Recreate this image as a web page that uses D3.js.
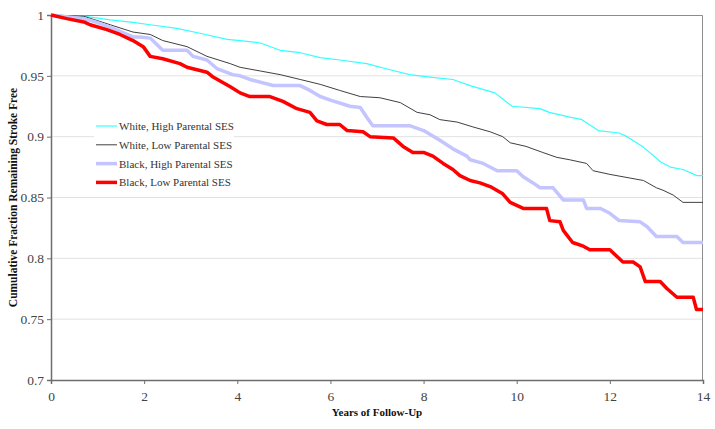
<!DOCTYPE html>
<html>
<head>
<meta charset="utf-8">
<script src="https://cdn.jsdelivr.net/npm/d3@7"></script>
<style>
  body { margin: 0; background: #fff; }
</style>
</head>
<body>
<div id="chart"></div>
<script>
// ticks
const xTicks = [0, 2, 4, 6, 8, 10, 12, 14];
const yTicks = [0.7, 0.75, 0.8, 0.85, 0.9, 0.95, 1];

// series: [year, fraction stroke free]
const whiteHigh = [[0,1],[0.7,0.999],[1.27,0.996],[1.76,0.994],[2.13,0.992],[2.7,0.989],[3.2,0.985],[3.78,0.98],
  [4.06,0.979],[4.5,0.977],[4.92,0.971],[5.35,0.969],[5.78,0.965],[6.2,0.963],[6.78,0.96],[7.28,0.955],[7.7,0.951],
  [8.14,0.949],[8.63,0.947],[9.0,0.942],[9.53,0.936],[9.7,0.931],[9.9,0.925],[10.5,0.923],[10.7,0.92],[11.14,0.916],
  [11.4,0.914],[11.75,0.905],[12.2,0.903],[12.37,0.9],[12.7,0.892],[13.1,0.879],[13.3,0.875],[13.57,0.873],[13.87,0.868],[14,0.868]];
const whiteLow = [[0,1],[0.7,0.999],[1.27,0.992],[1.76,0.986],[2.13,0.984],[2.4,0.979],[2.92,0.974],[3.35,0.966],
  [3.85,0.96],[4.06,0.957],[4.49,0.954],[4.92,0.951],[5.35,0.947],[5.78,0.943],[6.2,0.938],[6.64,0.933],[7.06,0.932],
  [7.5,0.928],[7.86,0.92],[8.14,0.918],[8.35,0.914],[8.72,0.912],[9.06,0.908],[9.43,0.904],[9.7,0.9],[9.86,0.895],
  [10.2,0.892],[10.56,0.887],[10.86,0.883],[11.14,0.881],[11.5,0.878],[11.64,0.872],[12.0,0.869],[12.43,0.866],
  [12.72,0.864],[13.0,0.858],[13.14,0.856],[13.36,0.852],[13.57,0.846],[14,0.846]];
const blackHigh = [[0,1],[0.7,0.997],[0.9,0.995],[1.27,0.99],[1.76,0.982],[1.91,0.982],[2.13,0.981],[2.4,0.971],
  [2.92,0.971],[3.05,0.966],[3.35,0.963],[3.56,0.956],[3.9,0.951],[4.06,0.95],[4.27,0.947],[4.77,0.942],[5.35,0.942],
  [5.56,0.938],[5.78,0.933],[6.0,0.93],[6.42,0.925],[6.64,0.924],[6.78,0.916],[6.91,0.909],[7.7,0.909],[8.0,0.905],
  [8.35,0.897],[8.63,0.89],[8.93,0.884],[9.0,0.881],[9.28,0.878],[9.58,0.872],[10.0,0.872],[10.14,0.867],[10.35,0.862],
  [10.5,0.858],[10.78,0.858],[11.0,0.848],[11.43,0.848],[11.5,0.841],[11.8,0.841],[12.0,0.837],[12.2,0.831],
  [12.65,0.83],[12.8,0.826],[13.0,0.818],[13.44,0.818],[13.57,0.813],[14,0.813]];
const blackLow = [[0,1],[0.34,0.997],[0.73,0.994],[0.84,0.992],[1.2,0.988],[1.48,0.984],[1.76,0.979],[1.98,0.974],
  [2.13,0.966],[2.4,0.964],[2.77,0.96],[2.92,0.957],[3.35,0.953],[3.48,0.949],[3.85,0.941],[4.06,0.936],[4.27,0.933],
  [4.7,0.933],[4.98,0.929],[5.28,0.923],[5.56,0.92],[5.71,0.913],[5.92,0.91],[6.2,0.91],[6.36,0.905],[6.7,0.904],
  [6.85,0.9],[7.35,0.899],[7.56,0.892],[7.77,0.887],[8.0,0.887],[8.2,0.884],[8.42,0.878],[8.63,0.873],[8.78,0.868],
  [9.0,0.864],[9.21,0.862],[9.43,0.859],[9.7,0.853],[9.86,0.846],[10.14,0.841],[10.64,0.841],[10.71,0.831],
  [10.93,0.83],[11.0,0.823],[11.2,0.813],[11.43,0.81],[11.57,0.807],[12.0,0.807],[12.28,0.797],[12.5,0.797],
  [12.65,0.793],[12.76,0.781],[13.08,0.781],[13.23,0.775],[13.44,0.768],[13.79,0.768],[13.86,0.758],[14,0.758]];

const seriesNames = ["White, High Parental SES", "White, Low Parental SES", "Black, High Parental SES", "Black, Low Parental SES"];
const seriesData = [whiteHigh, whiteLow, blackHigh, blackLow];
const seriesColors = ["#33ffff", "#404040", "#c4c4ff", "#ff0000"];
const seriesWidths = [1.2, 1, 3.5, 3.5];

const serif = '"Liberation Serif", "DejaVu Serif", serif';
const W = 715, H = 429;
const margin = {top: 15, right: 12, bottom: 49, left: 51};
const width = W - margin.left - margin.right;
const height = H - margin.top - margin.bottom;

const svg = d3.select("#chart").append("svg")
    .attr("width", W).attr("height", H)
    .attr("font-family", serif)
  .append("g")
    .attr("transform", `translate(${margin.left},${margin.top})`);

const x = d3.scaleLinear().domain([0, 14]).range([0, width]);
const y = d3.scaleLinear().domain([0.7, 1]).range([height, 0]);

// gridlines
svg.append("g").selectAll("line")
  .data(yTicks.filter(d => d > 0.7 && d < 1))
  .join("line")
    .attr("x1", 0).attr("x2", width)
    .attr("y1", d => y(d)).attr("y2", d => y(d))
    .attr("stroke", "#e2e2e2").attr("stroke-width", 1);

// plot frame (top and right)
svg.append("path")
  .attr("d", `M0,0.5H${width - 0.5}V${height}`)
  .attr("fill", "none").attr("stroke", "#8c8c8c").attr("stroke-width", 1);

// axes
const xAxis = svg.append("g")
  .attr("transform", `translate(0,${height})`)
  .call(d3.axisBottom(x).tickValues(xTicks).tickSize(4).tickPadding(7));
const yAxis = svg.append("g")
  .call(d3.axisLeft(y).tickValues(yTicks).tickSize(4).tickPadding(3).tickFormat(d3.format("")));
[xAxis, yAxis].forEach(a => {
  a.attr("font-family", serif).attr("font-size", 13.5);
  a.select(".domain").attr("stroke", "#6e6e6e").attr("stroke-width", 1.5);
  a.selectAll(".tick line").attr("stroke", "#6e6e6e");
  a.selectAll("text").attr("fill", "#444");
});

// lines
const line = d3.line().x(d => x(d[0])).y(d => y(d[1]));
svg.append("g").selectAll("path")
  .data(seriesData)
  .join("path")
    .attr("d", line)
    .attr("fill", "none")
    .attr("stroke", (d, i) => seriesColors[i])
    .attr("stroke-width", (d, i) => seriesWidths[i])
    .attr("stroke-linejoin", "round");

// legend
const legend = svg.append("g").attr("transform", "translate(43,103)");
legend.append("rect")
  .attr("x", 0).attr("y", 0).attr("width", 140).attr("height", 78)
  .attr("fill", "#fff");
const items = legend.selectAll("g.item")
  .data(seriesNames)
  .join("g")
    .attr("class", "item")
    .attr("transform", (d, i) => `translate(0,${8 + i * 18.8})`);
items.append("line")
  .attr("x1", 2).attr("x2", 23).attr("y1", 0).attr("y2", 0)
  .attr("stroke", (d, i) => seriesColors[i])
  .attr("stroke-width", (d, i) => seriesWidths[i]);
items.append("text")
  .attr("x", 25).attr("y", 4)
  .attr("font-size", 11).attr("fill", "#333")
  .text(d => d);

// axis titles
svg.append("text")
  .attr("x", width / 2).attr("y", height + 36)
  .attr("text-anchor", "middle")
  .attr("font-size", 11).attr("font-weight", "bold").attr("fill", "#111")
  .text("Years of Follow-Up");
svg.append("text")
  .attr("transform", `translate(-34,${height / 2}) rotate(-90)`)
  .attr("text-anchor", "middle")
  .attr("font-size", 11.5).attr("font-weight", "bold").attr("fill", "#111")
  .text("Cumulative Fraction Remaining Stroke Free");
</script>
</body>
</html>
